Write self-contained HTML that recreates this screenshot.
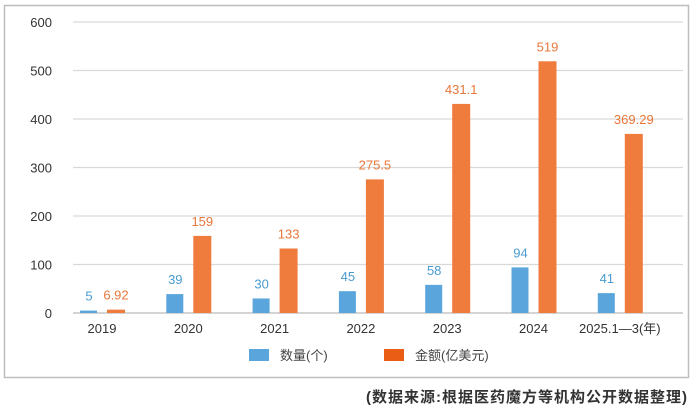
<!DOCTYPE html>
<html><head><meta charset="utf-8"><style>
body{margin:0;background:#fff;width:700px;height:412px;overflow:hidden;font-family:"Liberation Sans","Noto Sans CJK SC",sans-serif}
svg text{font-family:"Liberation Sans","Noto Sans CJK SC",sans-serif}
</style></head><body>
<svg id="c" width="700" height="412">
<rect x="4.5" y="5.5" width="684" height="372" fill="none" stroke="#bdbdbd" stroke-width="1.5"/>
<g id="grid"></g><g id="bars"></g>
<g>
<rect x="249" y="349" width="20" height="12" fill="#5aa6dc"/>
<text x="280" y="360" font-size="13" fill="#444">数量(个)</text>
<rect x="384" y="349" width="20" height="12" fill="#ea5d14"/>
<text x="415" y="360" font-size="13" fill="#444">金额(亿美元)</text>
</g>
<text x="688" y="402" text-anchor="end" font-size="15" font-weight="bold" letter-spacing="1" fill="#333">(数据来源:根据医药魔方等机构公开数据整理)</text>
</svg>
<script>
const categories=["2019","2020","2021","2022","2023","2024","2025.1—3(年)"];
const countValues=[5,39,30,45,58,94,41];
const amountValues=[6.92,159,133,275.5,431.1,519,369.29];
const amountLabels=["6.92","159","133","275.5","431.1","519","369.29"];
const yTicks=[0,100,200,300,400,500,600];
const NS="http://www.w3.org/2000/svg";
const y=v=>313-v*(291/600);
const x=i=>102+i*86.3;
function mk(t,a,p){const e=document.createElementNS(NS,t);for(const k in a)e.setAttribute(k,a[k]);p.appendChild(e);return e;}
const g=document.getElementById('grid'),b=document.getElementById('bars');
yTicks.forEach(v=>{
 const l=mk('line',{x1:73,x2:683,y1:y(v),y2:y(v),stroke:v===0?'#bbb':'#d9d9d9','stroke-width':1.2},g);
 
 
 const t=mk('text',{x:52,y:y(v)+5,'text-anchor':'end','font-size':13,fill:'#333'},g);t.textContent=v;
 
 
});
categories.forEach((c,i)=>{
 const cx=x(i);
 const r1=mk('rect',{x:cx-22,y:y(countValues[i]),width:17,height:313-y(countValues[i]),fill:'#5aa6dc'},b);
 
 
 const r2=mk('rect',{x:cx+5,y:y(amountValues[i]),width:18,height:313-y(amountValues[i]),fill:'#ef7b3c'},b);
 
 
 const t1=mk('text',{x:cx-13,y:y(countValues[i])-10,'text-anchor':'middle','font-size':13,fill:'#4a9bcf'},b);t1.textContent=countValues[i];
 
 
 const t2=mk('text',{x:cx+14,y:y(amountValues[i])-10,'text-anchor':'middle','font-size':13,fill:'#e8773a'},b);t2.textContent=amountLabels[i];
 
 
 const t3=mk('text',{x:cx,y:333,'text-anchor':'middle','font-size':13,fill:'#333'},b);t3.textContent=c;
 
 
});
</script>
</body></html>
